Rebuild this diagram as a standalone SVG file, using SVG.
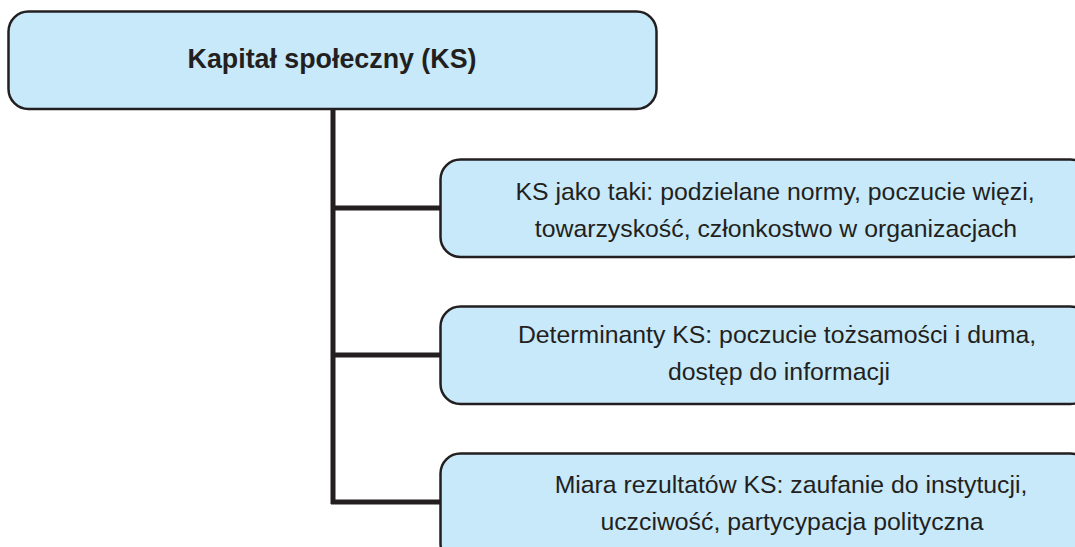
<svg xmlns="http://www.w3.org/2000/svg" width="1075" height="547" viewBox="0 0 1075 547">
<style>
.box{fill:#c7e9f9;stroke:#231f20;stroke-width:2.5}
.conn{stroke:#231f20;stroke-width:5;fill:none}
.t{font-family:"Liberation Sans",Arial,sans-serif;font-size:24.8px;fill:#231f20;text-anchor:middle}
.title{font-family:"Liberation Sans",Arial,sans-serif;font-size:26.8px;font-weight:bold;fill:#231f20;text-anchor:middle}
</style>
<rect width="1075" height="547" fill="#ffffff"/>
<g id="connectors">
<path class="conn" d="M333,109 V504"/>
<path class="conn" d="M331,208 H441"/>
<path class="conn" d="M331,355 H441"/>
<path class="conn" d="M331,502 H441"/>
</g>
<g id="root">
<rect class="box" x="8.5" y="11.5" width="648" height="97.5" rx="20"/>
<text class="title" x="332" y="68">Kapitał społeczny (KS)</text>
</g>
<g id="node1">
<rect class="box" x="440.5" y="159.5" width="650" height="97.5" rx="20"/>
<text class="t" x="775" y="200">KS jako taki: podzielane normy, poczucie więzi,</text>
<text class="t" x="776" y="237">towarzyskość, członkostwo w organizacjach</text>
</g>
<g id="node2">
<rect class="box" x="440.5" y="306.5" width="650" height="97.5" rx="20"/>
<text class="t" x="777" y="343">Determinanty KS: poczucie tożsamości i duma,</text>
<text class="t" x="779" y="380">dostęp do informacji</text>
</g>
<g id="node3">
<rect class="box" x="440.5" y="453.5" width="650" height="110" rx="20"/>
<text class="t" x="791" y="493">Miara rezultatów KS: zaufanie do instytucji,</text>
<text class="t" x="792" y="530">uczciwość, partycypacja polityczna</text>
</g>
</svg>
